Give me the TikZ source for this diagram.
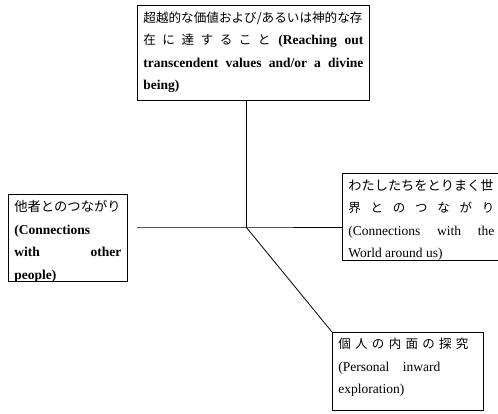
\documentclass[tikz,border=0pt]{standalone}
\usepackage{fontspec}
\setmainfont{Liberation Serif}
\newfontfamily\jp{Noto Sans CJK JP}
\newcommand{\spr}[1]{\makebox[\linewidth][s]{#1}}
\newcommand{\boxtext}[3]{\parbox[t][#2][t]{#1}{\baselineskip=22.5pt\lineskiplimit=-20pt\lineskip=0pt\parindent=0pt\vspace*{6pt}#3}}
\tikzset{
  box/.style={draw, line width=0.8pt, anchor=north west, inner xsep=6pt, inner ysep=0pt, align=left, font=\fontsize{13.5}{14}\selectfont},
  link/.style={line width=0.8pt}
}
\begin{document}
\begin{tikzpicture}[x=1pt,y=-1pt]
\useasboundingbox (0,0) rectangle (498,414);
\node[box] (top) at (137,5) {\boxtext{220pt}{95pt}{%
\spr{\jp\fontsize{12.6}{13}\selectfont 超越的な価値および/あるいは神的な存}\\
\spr{{\jp\fontsize{12.6}{13}\selectfont 在 に 達 す る こ と} \textbf{(Reaching out}}\\
\spr{\textbf{transcendent values and/or a divine}}\\
\textbf{being)}}};
\node[box] (left) at (8,194) {\boxtext{107pt}{87pt}{%
{\jp\fontsize{13.3}{13}\selectfont 他者とのつながり}\\
\textbf{(Connections}\\
\spr{\textbf{with} \hfill \textbf{other}}\\
\textbf{people)}}};
\node[box] (right) at (342,173) {\boxtext{152pt}{87pt}{%
{\jp\fontsize{13.2}{13}\selectfont わたしたちをとりまく世}\\
\makebox[146pt][s]{\jp\fontsize{12.5}{13}\selectfont 界 と の つ な が り}\\
\makebox[146pt][s]{(Connections with the}\\
World around us)}};
\node[box] (bottom) at (332,332) {\boxtext{139pt}{78pt}{%
\makebox[130pt][s]{\jp\fontsize{12.5}{13}\selectfont 個 人 の 内 面 の 探 究}\\
(Personal\hspace{1em}inward\\
exploration)}};
\coordinate (hub) at (246,227);
\coordinate (lend) at (137,227);
\draw[link] (top.south -| hub) -- (hub);
\draw[link] (lend) -- (hub) -- (hub -| right.west);
\draw[link] (hub) -- (bottom.north west);
\end{tikzpicture}
\end{document}
